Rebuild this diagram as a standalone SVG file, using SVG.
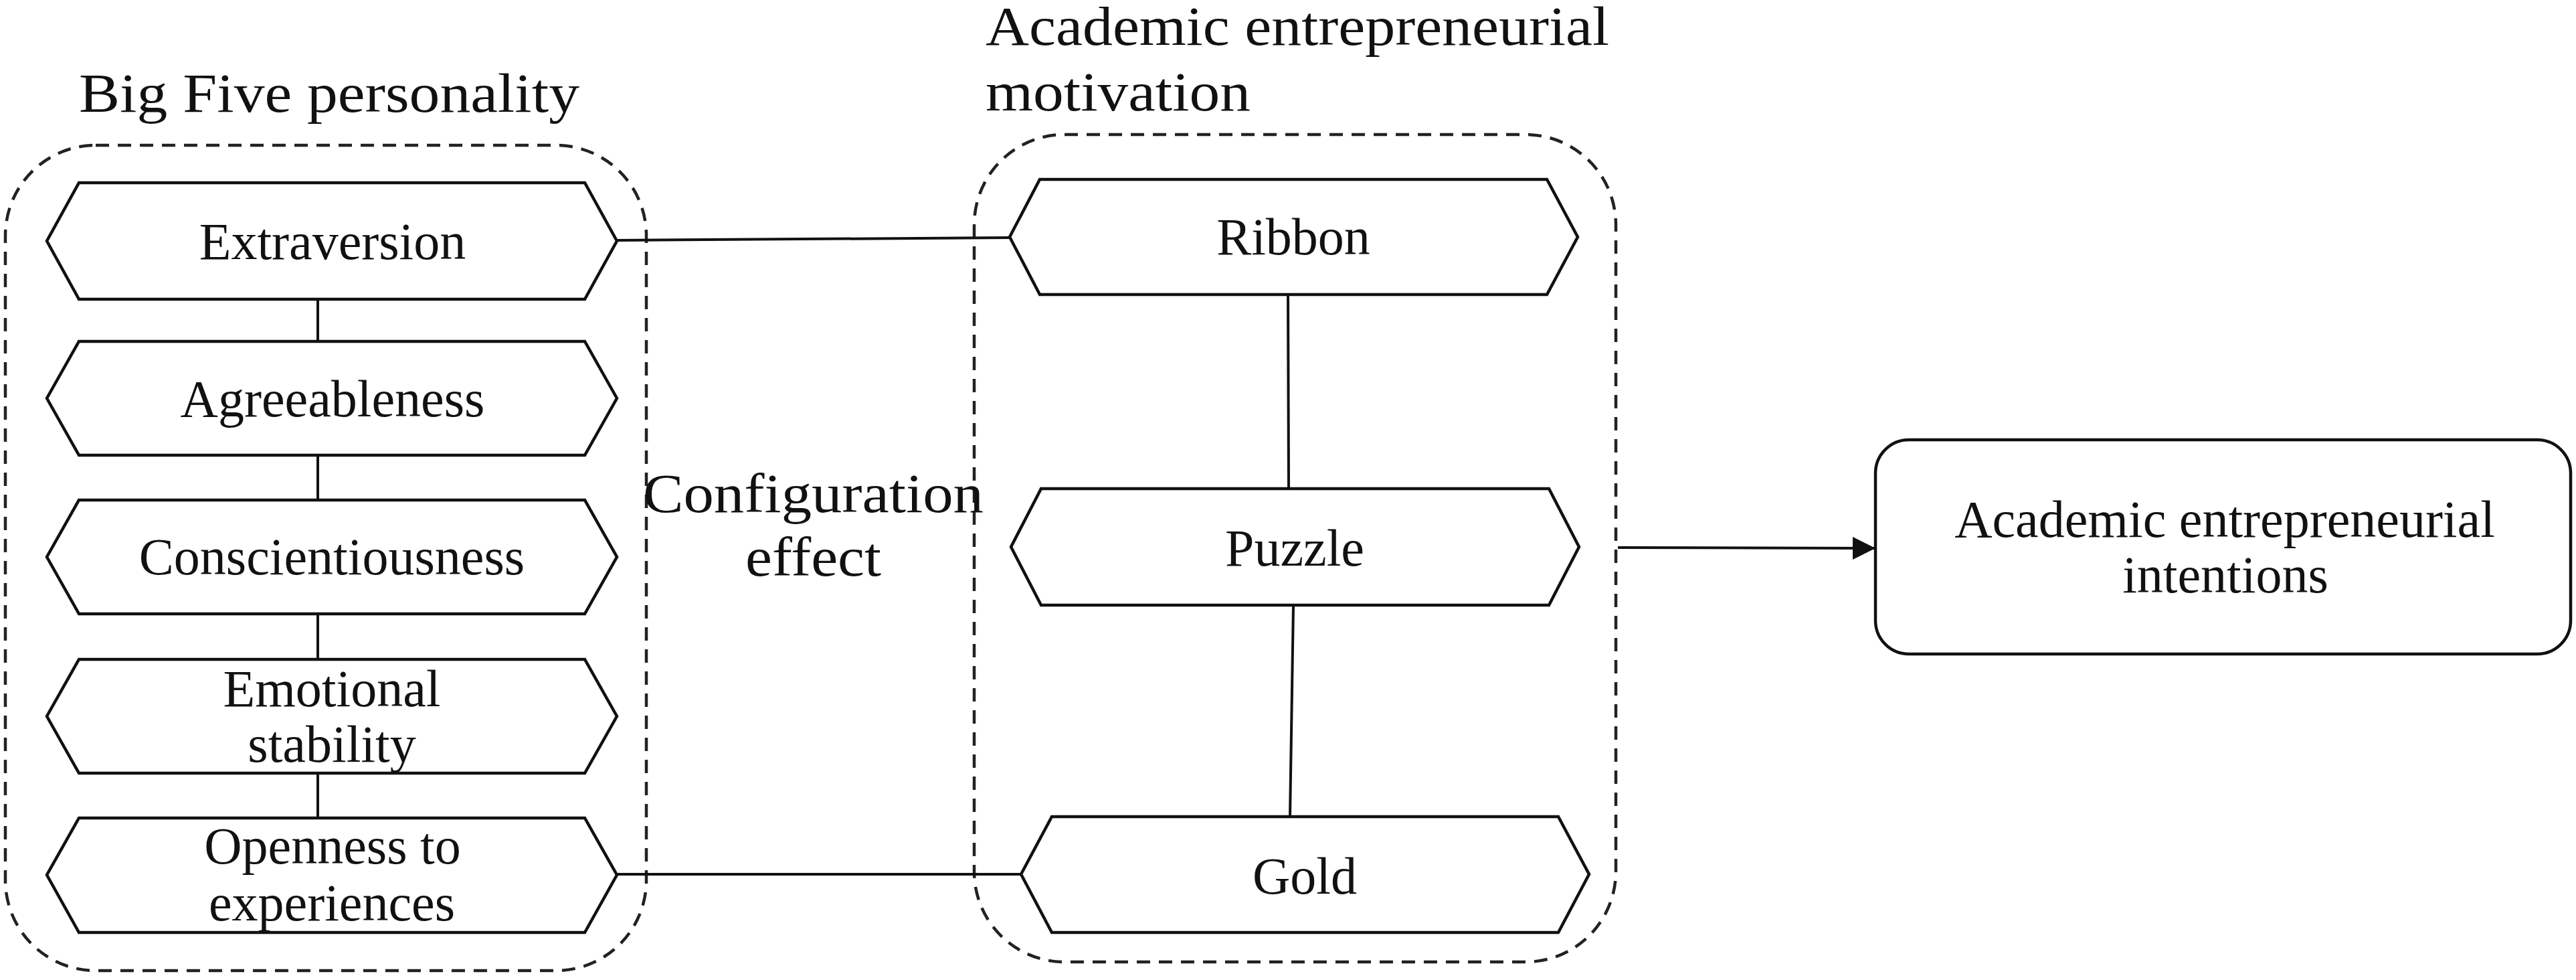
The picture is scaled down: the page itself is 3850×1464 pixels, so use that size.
<svg xmlns="http://www.w3.org/2000/svg" width="3850" height="1464" viewBox="0 0 3850 1464">
<defs>
<style>
.bg{fill:#ffffff}
.hex{fill:#ffffff;stroke:#111111;stroke-width:4.5;stroke-linejoin:miter}
.grp{fill:none;stroke:#222222;stroke-width:4.5;stroke-dasharray:20 13}
.box{fill:#ffffff;stroke:#111111;stroke-width:4.5}
.edge{fill:none;stroke:#111111;stroke-width:4}
.lbl{font-family:"Liberation Serif","Times New Roman",serif;font-size:78px;fill:#111111;text-anchor:middle}
.ttl{font-family:"Liberation Serif","Times New Roman",serif;font-size:82px;fill:#111111}
</style>
<marker id="arrow" markerWidth="36" markerHeight="36" refX="34" refY="18" orient="auto" markerUnits="userSpaceOnUse">
<path d="M0,1 L34,18 L0,35 Z" fill="#111111"/>
</marker>
</defs>
<rect class="bg" x="0" y="0" width="3850" height="1464"/>

<g id="group-bigfive">
<rect class="grp" x="8" y="217" width="958" height="1233" rx="135" ry="135"/>
<text class="ttl" x="118" y="167" textLength="748" lengthAdjust="spacingAndGlyphs">Big Five personality</text>
</g>

<g id="group-motivation">
<rect class="grp" x="1456" y="201" width="959" height="1236" rx="135" ry="135"/>
<text class="ttl" x="1473" y="67" textLength="932" lengthAdjust="spacingAndGlyphs">Academic entrepreneurial</text>
<text class="ttl" x="1473" y="165" textLength="396" lengthAdjust="spacingAndGlyphs">motivation</text>
</g>

<g id="label-configuration">
<text class="ttl" x="961" y="765" textLength="509" lengthAdjust="spacingAndGlyphs">Configuration</text>
<text class="ttl" x="1114" y="860" textLength="203" lengthAdjust="spacingAndGlyphs">effect</text>
</g>

<g id="connectors">
<line class="edge" x1="475" y1="447" x2="475" y2="510"/>
<line class="edge" x1="475" y1="680" x2="475" y2="747"/>
<line class="edge" x1="475" y1="917" x2="475" y2="985"/>
<line class="edge" x1="475" y1="1155" x2="475" y2="1222"/>
<line class="edge" x1="922" y1="359" x2="1509" y2="355"/>
<line class="edge" x1="922" y1="1306" x2="1526" y2="1306"/>
<line class="edge" x1="1925" y1="440" x2="1926" y2="730"/>
<line class="edge" x1="1933" y1="904" x2="1928" y2="1220"/>
<line class="edge" x1="2418" y1="818" x2="2803" y2="819" marker-end="url(#arrow)"/>
</g>

<g id="node-extraversion">
<polygon class="hex" points="118,273 874,273 922,360 874,447 118,447 70,360"/>
<text class="lbl" x="497" y="387">Extraversion</text>
</g>
<g id="node-agreeableness">
<polygon class="hex" points="118,510 874,510 922,595 874,680 118,680 70,595"/>
<text class="lbl" x="497" y="622">Agreeableness</text>
</g>
<g id="node-conscientiousness">
<polygon class="hex" points="118,747 874,747 922,832 874,917 118,917 70,832"/>
<text class="lbl" x="496" y="858">Conscientiousness</text>
</g>
<g id="node-emotional-stability">
<polygon class="hex" points="118,985 874,985 922,1070 874,1155 118,1155 70,1070"/>
<text class="lbl" x="496" y="1055">Emotional</text>
<text class="lbl" x="496" y="1138">stability</text>
</g>
<g id="node-openness">
<polygon class="hex" points="118,1222 874,1222 922,1307 874,1393 118,1393 70,1307"/>
<text class="lbl" x="497" y="1290">Openness to</text>
<text class="lbl" x="496" y="1375">experiences</text>
</g>

<g id="node-ribbon">
<polygon class="hex" points="1554,268 2312,268 2358,354 2312,440 1554,440 1509,354"/>
<text class="lbl" x="1933" y="380">Ribbon</text>
</g>
<g id="node-puzzle">
<polygon class="hex" points="1556,730 2315,730 2360,817 2315,904 1556,904 1511,817"/>
<text class="lbl" x="1935" y="845">Puzzle</text>
</g>
<g id="node-gold">
<polygon class="hex" points="1572,1220 2329,1220 2375,1306 2329,1393 1572,1393 1526,1306"/>
<text class="lbl" x="1950" y="1335">Gold</text>
</g>

<g id="node-intentions">
<rect class="box" x="2803" y="657" width="1039" height="320" rx="50" ry="50"/>
<text class="lbl" x="3325" y="802">Academic entrepreneurial</text>
<text class="lbl" x="3326" y="885">intentions</text>
</g>
</svg>
